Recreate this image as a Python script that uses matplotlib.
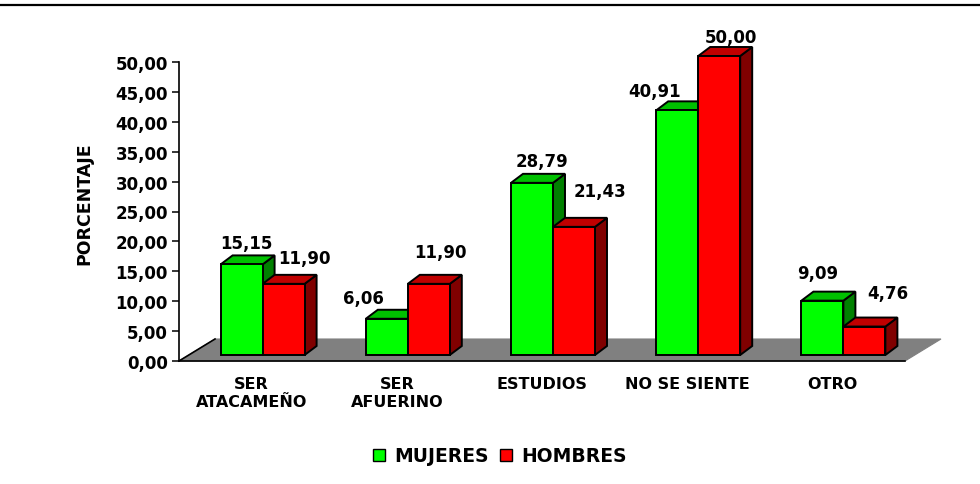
import numpy as np
import matplotlib.pyplot as plt
from matplotlib.patches import Polygon, Patch
from matplotlib.lines import Line2D

plt.rcParams['font.family'] = ['DejaVu Sans']
plt.rcParams['font.weight'] = 'bold'

categorias = ["SER\nATACAMEÑO", "SER\nAFUERINO", "ESTUDIOS", "NO SE SIENTE", "OTRO"]
mujeres = [15.15, 6.06, 28.79, 40.91, 9.09]
hombres = [11.90, 11.90, 21.43, 50.00, 4.76]

# corrimiento de cada etiqueta respecto al centro superior de su barra (pixeles)
ajuste_mujeres = [(5, 21), (-23, 21), (10, 22), (-23, 19), (-5, 28)]
ajuste_hombres = [(21, 26), (12, 32), (26, 36), (12, 19), (23, 34)]

VERDE = ('#00FF00', '#00C000', '#008000')   # frente, tapa, costado
ROJO = ('#FF0000', '#C00000', '#800000')

fig = plt.figure(figsize=(9.8, 4.85), dpi=100)
ax = fig.add_axes([179 / 980, 123 / 485, 726 / 980, 299 / 485])
ax.set_xlim(0, 5)
ax.set_ylim(0, 50)

PX = 726 / 5    # pixeles por categoria
PY = 299 / 50   # pixeles por punto porcentual

# piso gris en perspectiva
fdx, fdy = 36 / PX, 22 / PY
piso = Polygon([(0, 0), (5, 0), (5 + fdx, fdy), (fdx, fdy)],
               closed=True, fc='#808080', ec='#808080', lw=0.8,
               clip_on=False, zorder=1)
ax.add_patch(piso)
ax.plot([0, fdx], [0, fdy], color='black', lw=1.2, clip_on=False, zorder=2)

ancho = 42 / PX
desp_x = 11 / PX
base = 6 / PY
pdx, pdy = 12 / PX, 9 / PY


def caja(x0, valor, colores, z):
    y0, y1 = base, base + valor
    frente = [(x0, y0), (x0 + ancho, y0), (x0 + ancho, y1), (x0, y1)]
    tapa = [(x0, y1), (x0 + ancho, y1), (x0 + ancho + pdx, y1 + pdy), (x0 + pdx, y1 + pdy)]
    costado = [(x0 + ancho, y0), (x0 + ancho + pdx, y0 + pdy),
               (x0 + ancho + pdx, y1 + pdy), (x0 + ancho, y1)]
    for cara, c in ((costado, colores[2]), (tapa, colores[1]), (frente, colores[0])):
        ax.add_patch(Polygon(cara, closed=True, fc=c, ec='black', lw=1.4,
                             joinstyle='miter', clip_on=False, zorder=z))


def etiqueta(x0, valor, ajuste):
    ax.annotate(f"{valor:.2f}".replace('.', ','), xy=(x0 + ancho / 2, base + valor),
                xytext=ajuste, textcoords='offset pixels', ha='center', va='center',
                fontsize=12, annotation_clip=False, zorder=20)


for i in range(len(categorias)):
    centro = i + 0.5 + desp_x
    caja(centro - ancho, mujeres[i], VERDE, 3 + 2 * i)
    caja(centro, hombres[i], ROJO, 4 + 2 * i)
    etiqueta(centro - ancho, mujeres[i], ajuste_mujeres[i])
    etiqueta(centro, hombres[i], ajuste_hombres[i])

for lado in ('top', 'right'):
    ax.spines[lado].set_visible(False)
ax.spines['left'].set_linewidth(1.2)
ax.spines['bottom'].set_linewidth(1.2)
ax.spines['bottom'].set_zorder(2)

ax.set_yticks(np.arange(0, 51, 5))
ax.set_yticklabels([f"{v:.2f}".replace('.', ',') for v in np.arange(0, 51, 5)])
ax.tick_params(axis='y', length=5, width=1.1, labelsize=12, pad=3)
ax.set_xticks(np.arange(len(categorias)) + 0.5)
ax.set_xticklabels(categorias, fontsize=11.5, linespacing=1.2)
ax.tick_params(axis='x', length=0, pad=11)
ax.patch.set_visible(False)

fig.text(84 / 980, 1 - 204 / 485, 'PORCENTAJE', rotation=90, ha='center', va='center',
         fontsize=12.5)

fig.add_artist(Line2D([0, 1], [1 - 6 / 485] * 2, transform=fig.transFigure,
                      color='black', lw=1.6))

fig.legend(handles=[Patch(fc='#00FF00', ec='black', label='MUJERES'),
                    Patch(fc='#FF0000', ec='black', label='HOMBRES')],
           loc='center', bbox_to_anchor=(500 / 980, 28 / 485), ncol=2, frameon=False,
           fontsize=13.5, handlelength=0.65, handleheight=0.65, handletextpad=0.5,
           columnspacing=0.6)

fig.savefig('out.png', dpi=100)
